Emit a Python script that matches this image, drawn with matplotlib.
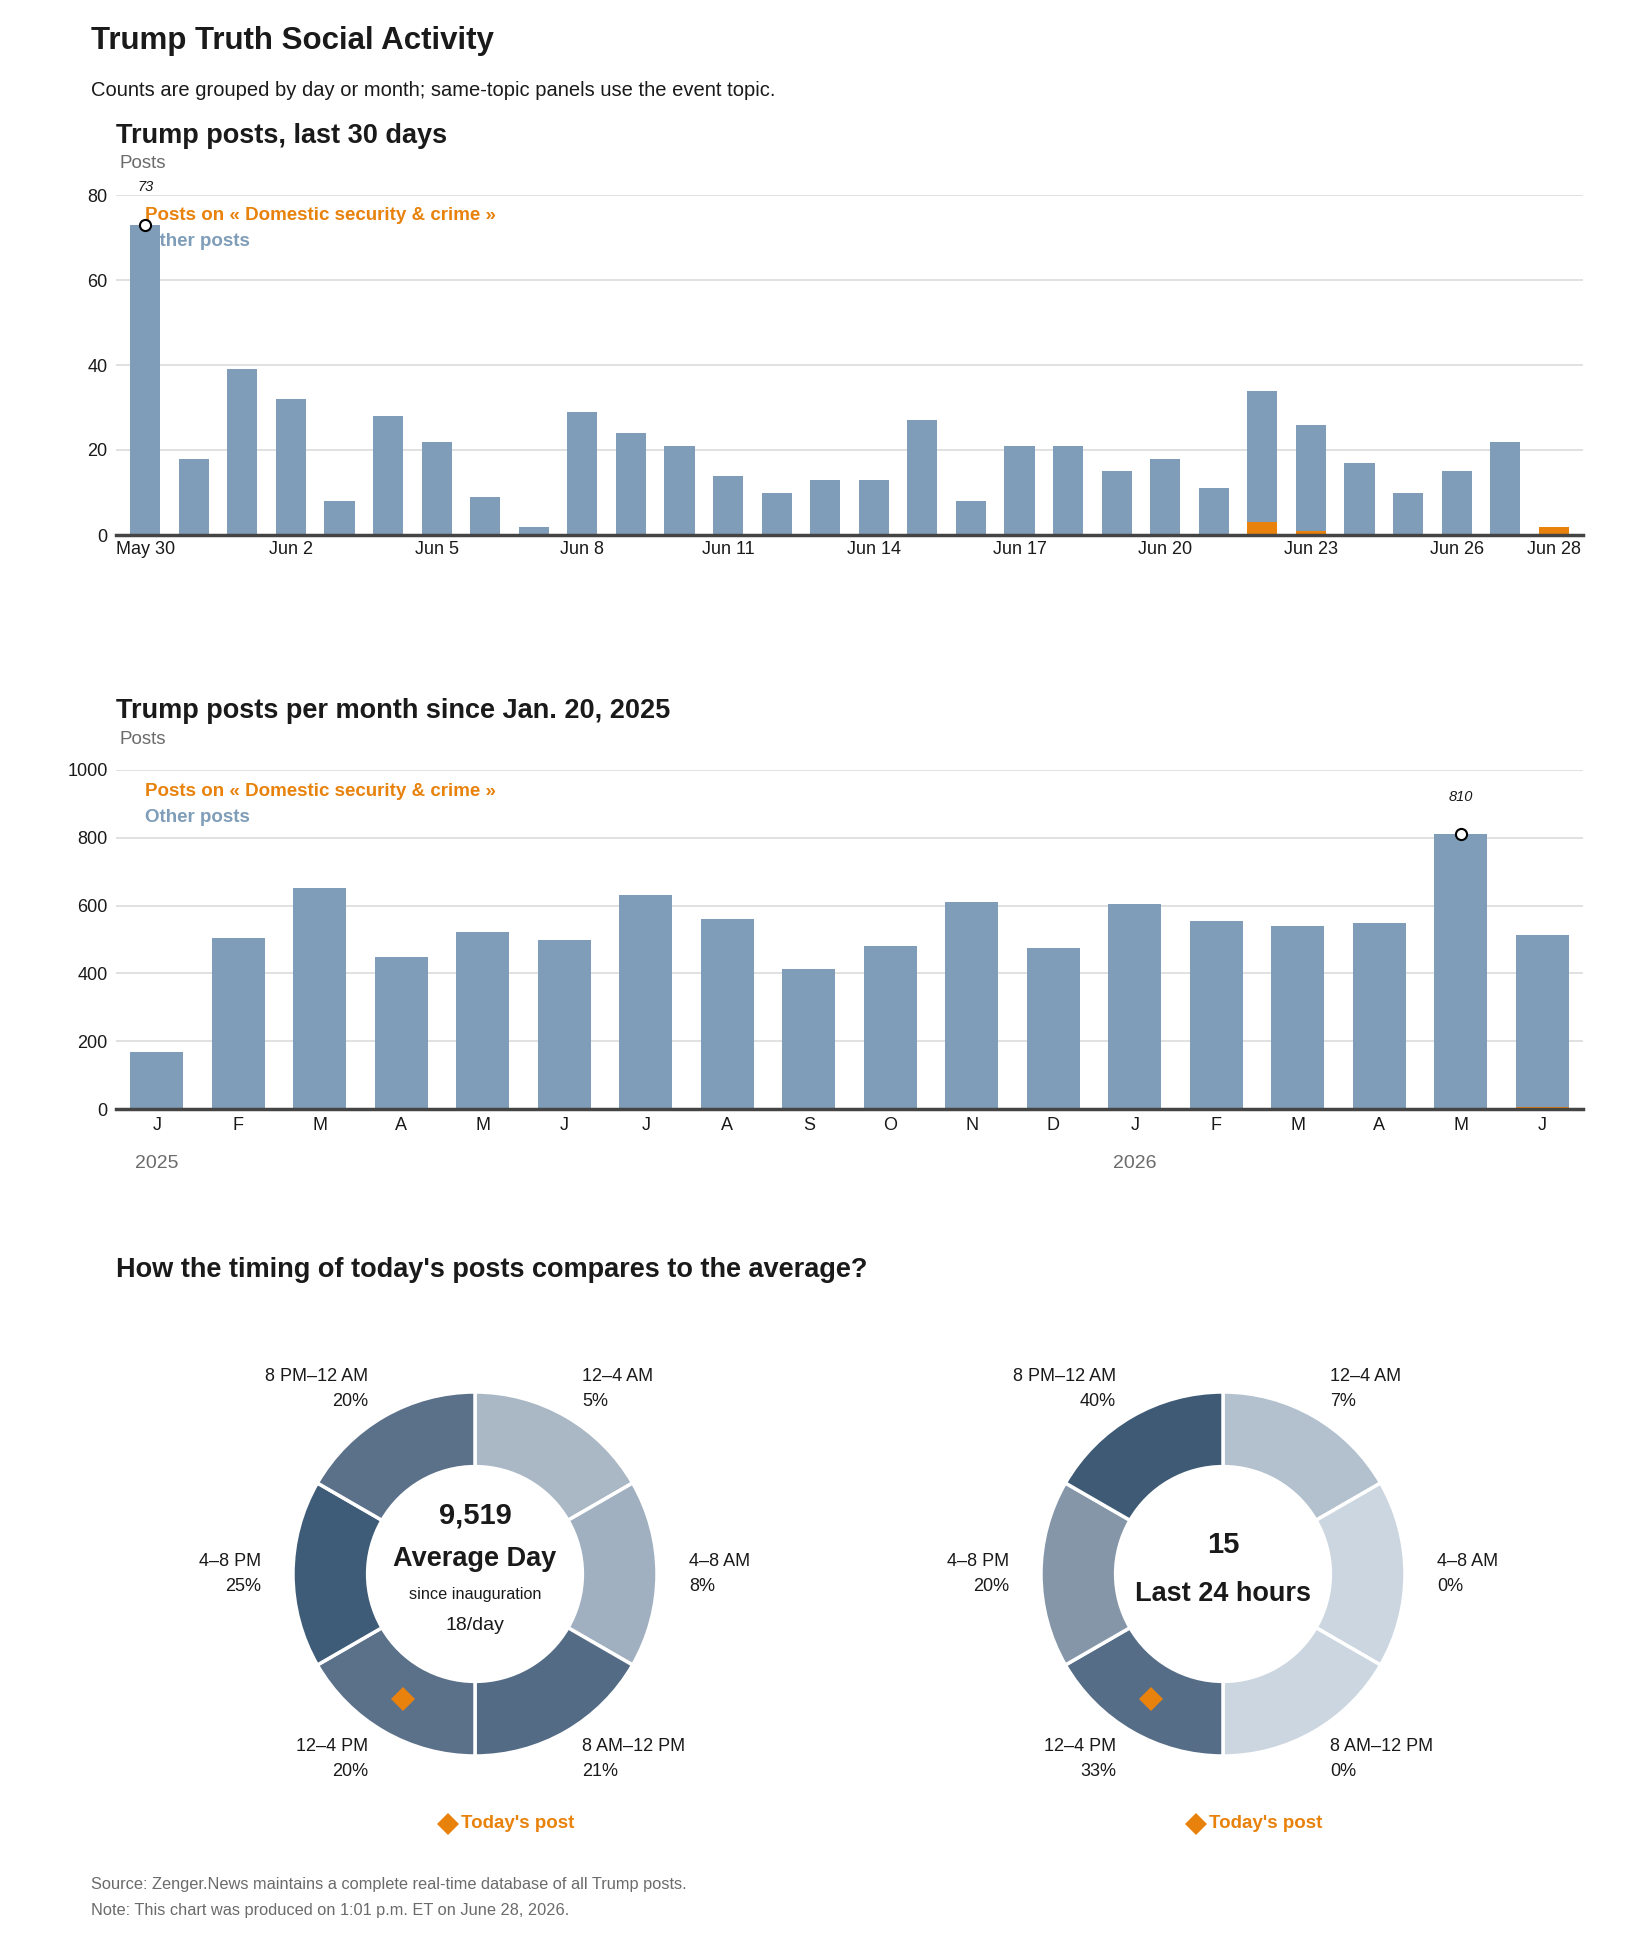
import numpy as np
import matplotlib
matplotlib.use("Agg")
import matplotlib.pyplot as plt
from matplotlib.transforms import blended_transform_factory

plt.rcParams['font.family'] = ['Liberation Sans', 'DejaVu Sans']

# ---- data -------------------------------------------------------------
day_labels = ["May 30", "May 31", "Jun 1", "Jun 2", "Jun 3", "Jun 4", "Jun 5", "Jun 6",
              "Jun 7", "Jun 8", "Jun 9", "Jun 10", "Jun 11", "Jun 12", "Jun 13", "Jun 14",
              "Jun 15", "Jun 16", "Jun 17", "Jun 18", "Jun 19", "Jun 20", "Jun 21", "Jun 22",
              "Jun 23", "Jun 24", "Jun 25", "Jun 26", "Jun 27", "Jun 28"]
daily_other = [73, 18, 39, 32, 8, 28, 22, 9, 2, 29, 24, 21, 14, 10, 13, 13,
               27, 8, 21, 21, 15, 18, 11, 31, 25, 17, 10, 15, 22, 0]
daily_topic = [0, 0, 0, 0, 0, 0, 0, 0, 0, 0, 0, 0, 0, 0, 0, 0,
               0, 0, 0, 0, 0, 0, 0, 3, 1, 0, 0, 0, 0, 2]
day_ticks = ["May 30", "Jun 2", "Jun 5", "Jun 8", "Jun 11", "Jun 14",
             "Jun 17", "Jun 20", "Jun 23", "Jun 26", "Jun 28"]

month_labels = ["J", "F", "M", "A", "M", "J", "J", "A", "S", "O", "N", "D",
                "J", "F", "M", "A", "M", "J"]
monthly_other = [168, 503, 653, 447, 521, 500, 630, 559, 412, 480, 612, 474,
                 606, 556, 539, 550, 810, 506]
monthly_topic = [0, 0, 0, 0, 0, 0, 0, 0, 0, 0, 0, 0, 0, 0, 0, 0, 0, 6]
year_labels = ["2025", "2026"]
year_start = [0, 12]

slots = ["12–4 AM", "4–8 AM", "8 AM–12 PM", "12–4 PM", "4–8 PM", "8 PM–12 AM"]
avg_share = [5, 8, 21, 20, 25, 20]
today_share = [7, 0, 0, 33, 20, 40]
today_slot = 3
total_posts = 9519
per_day = 18
last24 = 15

# ---- style ------------------------------------------------------------
W, H = 1650, 1950
BLUE = "#7f9db8"
ORANGE = "#e8820c"
DARK = "#1a1a1a"
GRAY = "#6b6b6b"
avg_colors = ["#aab8c6", "#a1b0c0", "#536b85", "#5b7089", "#3e5b77", "#5b7089"]
today_colors = ["#b3c1ce", "#ccd6e0", "#ccd6e0", "#566d87", "#8496a8", "#3e5a75"]


def rect(x0, y0, x1, y1):
    return [x0 / W, 1 - y1 / H, (x1 - x0) / W, (y1 - y0) / H]


def fy(y):
    return 1 - y / H


fig = plt.figure(figsize=(W / 100, H / 100), dpi=100)
fig.patch.set_facecolor("white")

fig.text(91 / W, fy(41), "Trump Truth Social Activity", fontsize=22.5, weight="bold",
         color=DARK, va="center")
fig.text(91 / W, fy(90), "Counts are grouped by day or month; same-topic panels use the event topic.",
         fontsize=14.5, color=DARK, va="center")


def bar_panel(rect_px, other, topic, width, xlim, yticks, title, title_y, posts_y, leg_y, ticks_at, tick_labels):
    ax = fig.add_axes(rect(*rect_px))
    x = np.arange(len(other))
    total = np.array(other) + np.array(topic)
    ax.bar(x, topic, width=width, color=ORANGE, zorder=3)
    ax.bar(x, other, bottom=topic, width=width, color=BLUE, zorder=3)
    ax.set_xlim(*xlim)
    ax.set_ylim(0, yticks[-1])
    ax.set_yticks(yticks)
    ax.set_xticks(ticks_at)
    ax.set_xticklabels(tick_labels)
    ax.grid(axis="y", color="#dcdcdc", lw=1.2)
    ax.set_axisbelow(True)
    for s in ["left", "top", "right"]:
        ax.spines[s].set_visible(False)
    ax.spines["bottom"].set_color("#444444")
    ax.spines["bottom"].set_linewidth(2.5)
    ax.spines["bottom"].set_zorder(4)
    ax.tick_params(length=0, labelsize=13, colors=DARK)
    ax.tick_params(axis="x", pad=4)
    ax.tick_params(axis="y", pad=6)
    ax.set_facecolor("none")

    fig.text(116 / W, fy(title_y), title, fontsize=19.5, weight="bold", color=DARK, va="center")
    fig.text(119 / W, fy(posts_y), "Posts", fontsize=13.5, color=GRAY, va="center")
    ax.text(145 / W, fy(leg_y), "Posts on « Domestic security & crime »", transform=fig.transFigure,
            fontsize=13.5, weight="bold", color=ORANGE, va="center", zorder=1)
    ax.text(145 / W, fy(leg_y + 27), "Other posts", transform=fig.transFigure,
            fontsize=13.5, weight="bold", color=BLUE, va="center", zorder=1)

    i = int(np.argmax(total))
    ax.plot(i, total[i], "o", mfc="white", mec="black", ms=8, mew=1.5, zorder=5, clip_on=False)
    ax.annotate(str(total[i]), (i, total[i]), xytext=(0, 27), textcoords="offset points",
                ha="center", va="center", fontsize=10.5, style="italic", color=DARK)
    return ax


day_tick_pos = [day_labels.index(t) for t in day_ticks]
bar_panel((116, 195, 1583, 535), daily_other, daily_topic, 0.62, (-0.6, 29.6), [0, 20, 40, 60, 80],
          "Trump posts, last 30 days", 136, 163, 215, day_tick_pos, day_ticks)

ax2 = bar_panel((116, 770, 1583, 1109), monthly_other, monthly_topic, 0.65, (-0.5, 17.5),
                [0, 200, 400, 600, 800, 1000],
                "Trump posts per month since Jan. 20, 2025", 711, 739, 791,
                list(range(len(month_labels))), month_labels)
ax2.tick_params(axis="x", pad=6)
tr = blended_transform_factory(ax2.transData, fig.transFigure)
for lab, pos in zip(year_labels, year_start):
    ax2.text(pos, fy(1163), lab, transform=tr, ha="center", va="center", fontsize=14, color=GRAY)

fig.text(116 / W, fy(1270), "How the timing of today's posts compares to the average?",
         fontsize=19.5, weight="bold", color=DARK, va="center")


R = 182.0
S = 300.0


def donut(cx, cy, shares, colors, center_lines):
    ax = fig.add_axes(rect(cx - S, cy - S, cx + S, cy + S))
    ax.pie([1] * len(slots), radius=1, startangle=90, counterclock=False, colors=colors,
           wedgeprops=dict(width=0.41, edgecolor="white", linewidth=2.5))
    lim = S / R
    ax.set_xlim(-lim, lim)
    ax.set_ylim(-lim, lim)
    ax.set_aspect("equal")
    ax.axis("off")
    step = 360 / len(slots)
    for i, (name, pct) in enumerate(zip(slots, shares)):
        ang = np.deg2rad(90 - step * i - step / 2)
        lx, ly = 1.176 * np.cos(ang), 1.176 * np.sin(ang)
        ha = "left" if np.cos(ang) > 0.01 else "right"
        ax.text(lx, ly + 0.069, name, ha=ha, va="center", fontsize=13, color=DARK)
        ax.text(lx, ly - 0.069, f"{pct}%", ha=ha, va="center", fontsize=13, color=DARK)
    ang = np.deg2rad(90 - step * today_slot - step / 2)
    ax.plot(0.795 * np.cos(ang), 0.795 * np.sin(ang), "D", color=ORANGE, ms=12, mew=0)
    for txt, dy, size, bold in center_lines:
        ax.text(0, -dy / R, txt, ha="center", va="center", fontsize=size,
                weight="bold" if bold else "normal", color=DARK)
    ax.plot(-27 / R, -250 / R, "D", color=ORANGE, ms=11, mew=0, clip_on=False)
    ax.text(-14 / R, -250 / R, "Today's post", ha="left", va="center", fontsize=13.5,
            weight="bold", color=ORANGE)


donut(475, 1574, avg_share, avg_colors,
      [(f"{total_posts:,}", -58, 21, True), ("Average Day", -15, 19.5, True),
       ("since inauguration", 21, 11.7, False), (f"{per_day}/day", 51, 14, False)])
donut(1223, 1574, today_share, today_colors,
      [(str(last24), -29, 21, True), ("Last 24 hours", 20, 19.5, True)])

fig.text(91 / W, fy(1885), "Source: Zenger.News maintains a complete real-time database of all Trump posts.",
         fontsize=11.8, color=GRAY, va="center")
fig.text(91 / W, fy(1910), "Note: This chart was produced on 1:01 p.m. ET on June 28, 2026.",
         fontsize=11.8, color=GRAY, va="center")

fig.savefig("out.png", dpi=100, facecolor="white")
